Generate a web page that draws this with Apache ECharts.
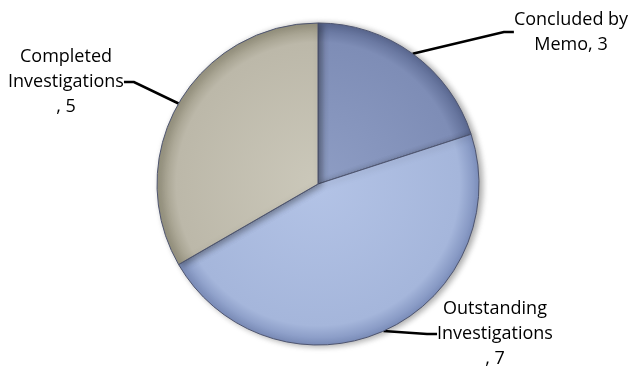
<!DOCTYPE html>
<html><head><meta charset="utf-8">
<script src="https://cdn.jsdelivr.net/npm/echarts@6/dist/echarts.min.js"></script>
<style>html,body{margin:0;padding:0;background:#fff}#c{width:632px;height:369px}</style>
</head><body><div id="c"></div>
<script>
const categories = ["Concluded by\nMemo", "Outstanding\nInvestigations\n", "Completed\nInvestigations\n"];
const values = [3, 7, 5];
const labelPos = [[571, 32], [495, 334], [66, 82]];
const colors = [
  ['#8e9dc4', '#7e8db6', '#5c6a93'],
  ['#b3c3e6', '#a5b6db', '#7e90bd'],
  ['#cbc8ba', '#bcb8a9', '#97937f']
];
const chart = echarts.init(document.getElementById('c'));
chart.setOption({
  animation: false,
  series: [{
    type: 'pie',
    center: [318, 184],
    radius: 161,
    startAngle: 90,
    clockwise: true,
    data: categories.map((c, i) => ({
      name: c, value: values[i],
      itemStyle: {
        color: {type: 'radial', x: 318, y: 184, r: 161, global: true, colorStops: [
          {offset: 0, color: colors[i][0]}, {offset: 0.88, color: colors[i][1]}, {offset: 1, color: colors[i][2]}]}
      }
    })),
    itemStyle: {borderColor: '#4e5570', borderWidth: 1, shadowBlur: 6, shadowColor: 'rgba(0,0,0,0.35)', shadowOffsetX: 3, shadowOffsetY: 1},
    label: {
      show: true, position: 'outside',
      formatter: p => p.name + ', ' + p.value,
      fontFamily: 'Open Sans', fontSize: 18, lineHeight: 25, color: '#000', align: 'center'
    },
    labelLine: {show: true, length: 20, length2: 10, lineStyle: {color: '#000', width: 2.5}},
    labelLayout: p => ({x: labelPos[p.dataIndex][0], y: labelPos[p.dataIndex][1], align: 'center', verticalAlign: 'middle'})
  }]
});
</script></body></html>
